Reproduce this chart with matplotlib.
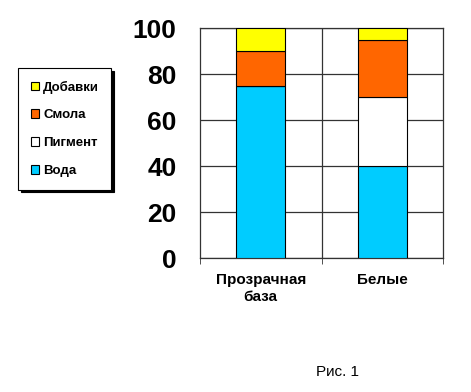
import matplotlib.pyplot as plt
from matplotlib.patches import Patch

plt.rcParams['font.family'] = ['Liberation Sans', 'DejaVu Sans']

categories = ['Прозрачная\nбаза', 'Белые']
series = ['Вода', 'Пигмент', 'Смола', 'Добавки']
values = {
    'Вода': [75, 40],
    'Пигмент': [0, 30],
    'Смола': [15, 25],
    'Добавки': [10, 5],
}
colors = {'Вода': '#00CCFF', 'Пигмент': '#FFFFFF', 'Смола': '#FF6600', 'Добавки': '#FFFF00'}

fig = plt.figure(figsize=(4.71, 3.92), dpi=100)
ax = fig.add_axes([0.4246, 0.3418, 0.516, 0.5867])

x = list(range(len(categories)))
bottom = [0] * len(categories)
for s in series:
    ax.bar(x, values[s], 0.4, bottom=bottom, color=colors[s], edgecolor='black',
           linewidth=0.8, zorder=3)
    bottom = [b + v for b, v in zip(bottom, values[s])]

ax.set_xlim(-0.5, len(categories) - 0.5)
ax.set_ylim(0, 100)
ax.set_yticks(range(0, 101, 20))
ax.tick_params(axis='y', length=0, pad=17, labelsize=19)
for lbl in ax.get_yticklabels():
    lbl.set_fontweight('bold')

ax.set_xticks(x)
ax.set_xticklabels(categories, fontsize=11, fontweight='bold', linespacing=1.25)
ax.tick_params(axis='x', which='major', length=0, pad=11)
ax.set_xticks([-0.5, 0.5, 1.5], minor=True)
ax.tick_params(axis='x', which='minor', length=4, direction='out', color='#333333')

ax.grid(axis='y', color='#333333', linewidth=0.9, zorder=0)
ax.axvline(0.5, color='#333333', linewidth=0.9, zorder=0)
for sp in ax.spines.values():
    sp.set_color('#333333')
    sp.set_linewidth(0.9)

handles = [Patch(facecolor=colors[s], edgecolor='black', linewidth=0.8, label=s)
           for s in reversed(series)]
leg = fig.legend(handles=handles, loc='upper left', bbox_to_anchor=(18 / 471, 1 - 68 / 392),
                 frameon=True, fancybox=False, shadow={'color': 'black', 'alpha': 1},
                 edgecolor='black', prop={'size': 9.5, 'weight': 'bold'},
                 handlelength=0.65, handleheight=0.65, handletextpad=0.3,
                 labelspacing=1.2, borderpad=0.95, borderaxespad=0)
leg.get_frame().set_linewidth(0.8)

fig.text(338 / 471, 1 - 372 / 392, 'Рис. 1', fontsize=11, ha='center', va='center')

fig.savefig('out.png', dpi=100)
